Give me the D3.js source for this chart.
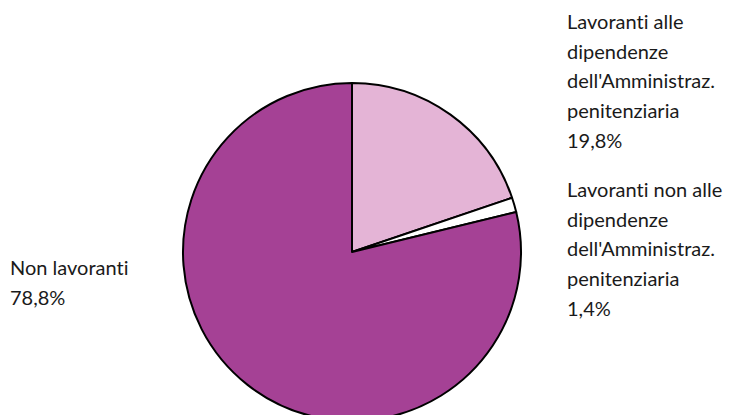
<!DOCTYPE html>
<html><head><meta charset="utf-8">
<script src="https://cdn.jsdelivr.net/npm/d3@7"></script>
<style>body{margin:0;background:#fff}svg{display:block}text{font-variant-ligatures:none;font-feature-settings:"liga" 0}</style>
</head><body>
<script>
const categories = ["Lavoranti alle dipendenze dell'Amministraz. penitenziaria", "Lavoranti non alle dipendenze dell'Amministraz. penitenziaria", "Non lavoranti"];
const values = [19.8, 1.4, 78.8];
const valueLabels = ["19,8%", "1,4%", "78,8%"];
const labelLines = [
  ["Lavoranti alle", "dipendenze", "dell'Amministraz.", "penitenziaria"],
  ["Lavoranti non alle", "dipendenze", "dell'Amministraz.", "penitenziaria"],
  ["Non lavoranti"]
];
const colors = ["#e4b4d6", "#ffffff", "#a54195"];

const W = 733, H = 415;
const svg = d3.select("body").append("svg").attr("width", W).attr("height", H);
const cx = 352, cy = 252, r = 169;
const pie = d3.pie().sort(null).value(d => d)(values);
const arc = d3.arc().innerRadius(0).outerRadius(r);
const g = svg.append("g").attr("transform", `translate(${cx},${cy})`);
g.selectAll("path").data(pie).join("path")
  .attr("d", arc).attr("fill", (d, i) => colors[i])
  .attr("stroke", "#000").attr("stroke-width", 2).attr("stroke-linejoin", "round");

const labelPos = [[567, 22], [567, 190], [10, 268]];
const lh = 29.7;
labelPos.forEach((p, i) => {
  const t = svg.append("text").attr("x", p[0]).attr("y", p[1])
    .attr("font-family", "Lato, sans-serif").attr("font-size", 20).attr("fill", "#1a1a1a");
  const lines = labelLines[i].concat([valueLabels[i]]);
  lines.forEach((l, j) => {
    t.append("tspan").attr("x", p[0]).attr("dy", j === 0 ? "0.35em" : lh).text(l);
  });
});
</script>
</body></html>
